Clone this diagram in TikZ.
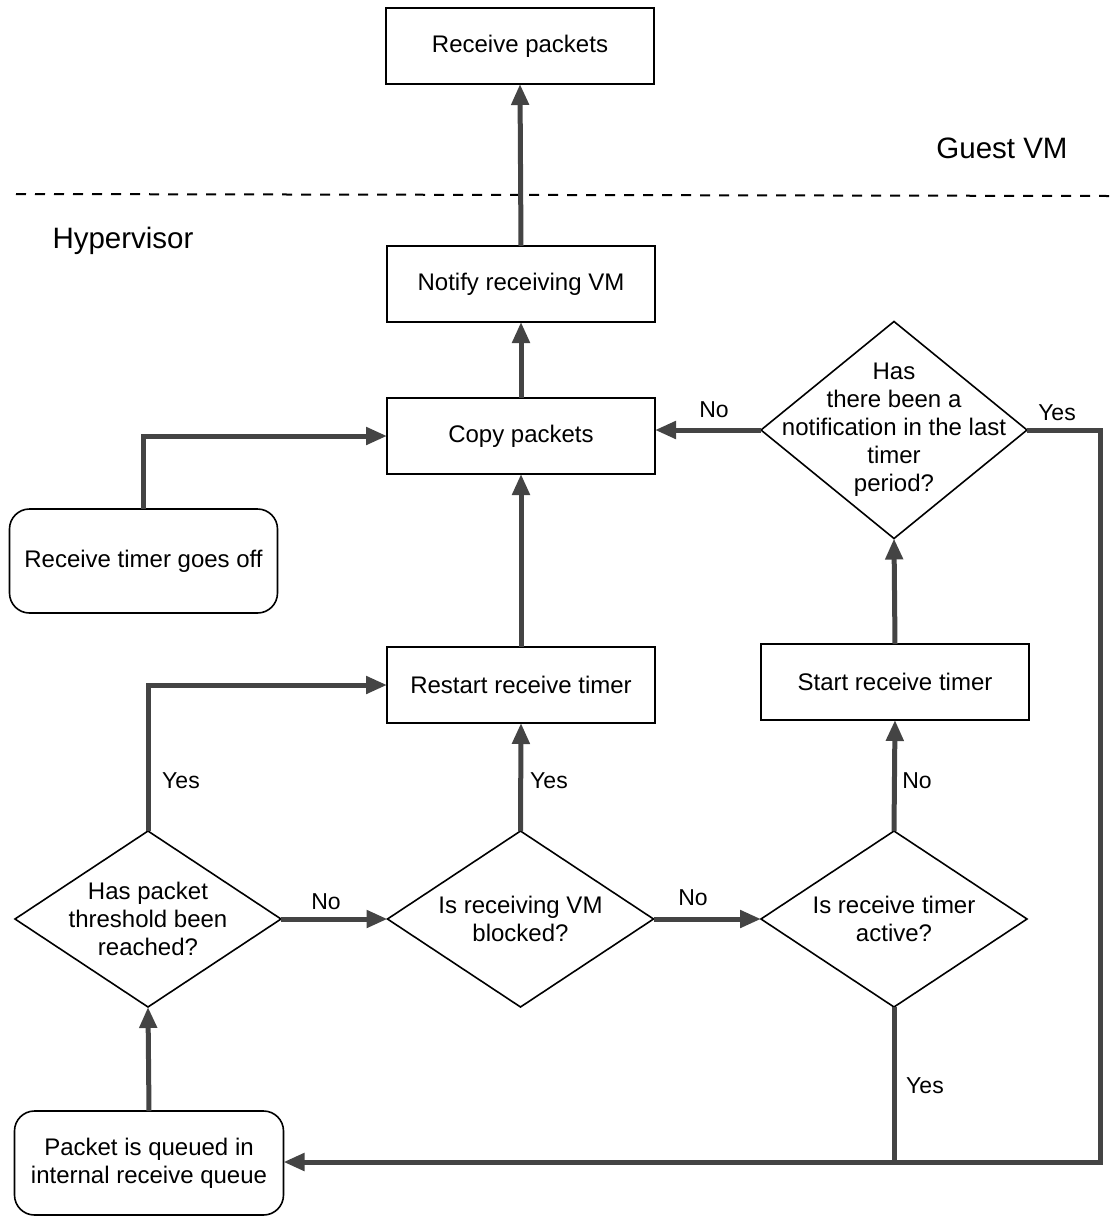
\documentclass[tikz,border=0pt]{standalone}
\usepackage{fontspec}
\setmainfont{Liberation Sans}
\usetikzlibrary{shapes.geometric,arrows.meta}
\definecolor{flowgray}{RGB}{68,68,68}
\begin{document}
\begin{tikzpicture}[x=1pt,y=-1pt,
  box/.style={draw=black,line width=1.6pt,minimum width=268pt,minimum height=76pt,
    inner sep=0pt,outer sep=0pt,font=\fontsize{24}{28}\selectfont,align=center},
  event/.style={box,rounded corners=20pt,minimum height=104pt},
  decision/.style={draw=black,line width=1.6pt,diamond,minimum width=266pt,
    minimum height=176pt,inner sep=0pt,outer sep=0pt},
  qtext/.style={font=\fontsize{24}{28}\selectfont,align=center,inner sep=0pt},
  flow/.style={draw=flowgray,line width=5pt,-{Triangle[length=21pt,width=17pt]}},
  plain/.style={draw=flowgray,line width=5pt},
  tag/.style={font=\fontsize{23}{28}\selectfont,inner sep=0pt},
  zone/.style={font=\fontsize{29.5}{34}\selectfont,inner sep=0pt}]
\useasboundingbox (0,0) rectangle (1109,1216);

% guest / hypervisor boundary
\draw[black,line width=2pt,dash pattern=on 10pt off 9pt] (16,194) -- (1109,196);
\node[zone] (guest) at (1002,148) {Guest VM};
\node[zone] (hyper) at (123,241) {Hypervisor};

% process boxes
\node[box] (recv)    at (520,46)  {Receive packets};
\node[box] (notify)  at (521,284) {Notify receiving VM};
\node[box] (copy)    at (521,436) {Copy packets};
\node[box] (restart) at (521,685) {Restart receive timer};
\node[box] (start)   at (895,682) {Start receive timer};

% events
\node[event] (timeroff) at (143.5,561) {Receive timer goes off};
\node[event,minimum width=269pt] (queued) at (149,1163) {Packet is queued in\\internal receive queue};

% decisions
\node[decision,minimum height=217pt] (notif) at (894,430) {};
\node[qtext] (notiftext) at (notif.center) {Has\\there been a\\notification in the last\\timer\\period?};
\node[decision] (thresh) at (148,919) {};
\node[qtext] (threshtext) at (thresh.center) {Has packet\\threshold been\\reached?};
\node[decision] (blocked) at (520.5,919) {};
\node[qtext] (blockedtext) at (blocked.center) {Is receiving VM\\blocked?};
\node[decision] (active) at (894,919) {};
\node[qtext] (activetext) at (active.center) {Is receive timer\\active?};

% connectors
\coordinate (loopcorner) at (1100,1162);
\draw[flow] (notify.north) -- (recv.south);
\draw[flow] (copy.north) -- (notify.south);
\draw[flow] (restart.north) -- (copy.south);
\draw[flow] (timeroff.north) |- (copy.west);
\draw[flow] (notif.west) -- (notif.west -| copy.east);
\draw[flow] (start.north) -- (notif.south);
\draw[flow] (active.north) -- (start.south);
\draw[flow] (blocked.north) -- (restart.south);
\draw[flow] (thresh.north) |- (restart.west);
\draw[flow] (thresh.east) -- (blocked.west);
\draw[flow] (blocked.east) -- (active.west);
\draw[flow] (queued.north) -- (thresh.south);
\draw[plain] (active.south) -- (active.south |- loopcorner);
\draw[flow] (notif.east) -| (loopcorner) -- (loopcorner -| queued.east);

% branch labels
\node[tag] (lnotifno)   at (714,410)  {No};
\node[tag] (lnotifyes)  at (1057,413) {Yes};
\node[tag] (lthreshyes) at (181,781)  {Yes};
\node[tag] (lthreshno)  at (326,902)  {No};
\node[tag] (lblockyes)  at (549,781)  {Yes};
\node[tag] (lblockno)   at (693,898)  {No};
\node[tag] (lactiveno)  at (917,781)  {No};
\node[tag] (lactiveyes) at (925,1086) {Yes};
\end{tikzpicture}
\end{document}
